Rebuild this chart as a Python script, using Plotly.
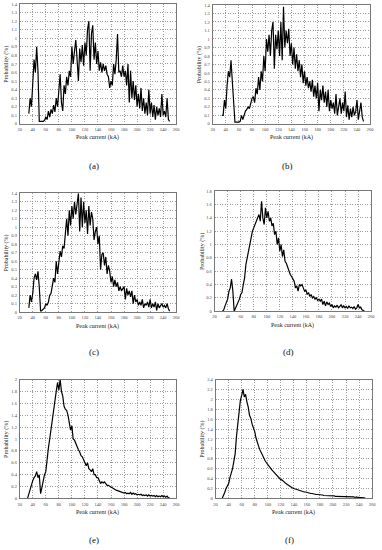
import plotly.graph_objects as go

KA = list(range(30, 252, 2))  # peak current sample points (kA)
X_TICKS = list(range(20, 261, 20))

N = None
prob_a = [N, N, 0.12, 0.30, 0.20, 0.55, 0.75, 0.60, 0.90, 0.62,
          0.03, 0.03, 0.03, 0.03, 0.04, 0.08, 0.05, 0.15, 0.08, 0.17,
          0.12, 0.22, 0.14, 0.30, 0.20, 0.35, 0.58, 0.25, 0.15, 0.45,
          0.35, 0.55, 0.45, 0.62, 0.55, 0.90, 0.70, 0.85, 0.98, 0.75,
          0.50, 0.88, 0.72, 0.92, 0.68, 0.95, 0.80, 1.10, 1.20, 0.62,
          1.05, 1.15, 0.75, 0.95, 0.70, 0.85, 0.62, 0.72, 0.60, 0.70,
          0.62, 0.68, 0.58, 0.55, 0.42, 0.50, 0.45, 0.70, 0.58, 0.75,
          1.05, 0.60, 0.62, 0.55, 0.68, 0.55, 0.62, 0.45, 0.70, 0.25,
          0.62, 0.30, 0.50, 0.28, 0.45, 0.20, 0.35, 0.18, 0.42, 0.15,
          0.30, 0.12, 0.25, 0.10, 0.40, 0.12, 0.25, 0.08, 0.22, 0.05,
          0.20, 0.10, 0.18, 0.08, 0.35, 0.10, 0.15, 0.08, 0.30, 0.05,
          0.03]
prob_b = [N, N, 0.10, 0.10, 0.28, 0.18, 0.45, 0.62, 0.55, 0.75,
          0.50, 0.30, 0.02, 0.02, 0.02, 0.02, 0.03, 0.10, 0.05, 0.12,
          0.15, 0.17, 0.20, 0.18, 0.25, 0.30, 0.32, 0.25, 0.42, 0.35,
          0.55, 0.40, 0.62, 0.50, 0.80, 0.62, 1.00, 0.85, 1.05, 0.80,
          1.10, 1.20, 0.65, 1.05, 0.88, 1.10, 0.80, 1.20, 0.75, 1.38,
          0.90, 1.10, 0.95, 1.12, 0.80, 0.95, 0.70, 0.90, 0.65, 0.82,
          0.62, 0.75, 0.55, 0.70, 0.48, 0.62, 0.45, 0.55, 0.42, 0.50,
          0.38, 0.52, 0.32, 0.45, 0.30, 0.48, 0.15, 0.40, 0.28, 0.45,
          0.25, 0.38, 0.20, 0.40, 0.15, 0.28, 0.18, 0.25, 0.12, 0.35,
          0.10, 0.22, 0.30, 0.12, 0.25, 0.15, 0.38, 0.08, 0.22, 0.05,
          0.18, 0.08, 0.20, 0.10, 0.15, 0.28, 0.05, 0.15, 0.25, 0.08,
          0.03]
prob_c = [N, N, 0.05, 0.20, 0.12, 0.22, 0.40, 0.45, 0.38, 0.48,
          0.30, 0.01, 0.02, 0.03, 0.05, 0.10, 0.08, 0.12, 0.20, 0.22,
          0.30, 0.40, 0.35, 0.60, 0.45, 0.62, 0.72, 0.65, 0.78, 0.75,
          0.92, 1.10, 0.90, 1.20, 1.02, 1.25, 1.10, 1.30, 1.15, 1.25,
          1.40, 0.95, 1.35, 1.00, 1.30, 1.05, 1.20, 0.92, 1.25, 1.02,
          1.18, 1.10, 0.85, 0.95, 1.00, 0.80, 0.90, 0.50, 0.68, 0.70,
          0.55, 0.65, 0.45, 0.55, 0.48, 0.35, 0.42, 0.30, 0.38, 0.30,
          0.35, 0.25, 0.30, 0.25, 0.28, 0.30, 0.15, 0.28, 0.20, 0.25,
          0.18, 0.25, 0.10, 0.20, 0.12, 0.15, 0.08, 0.12, 0.08, 0.15,
          0.05, 0.10, 0.08, 0.12, 0.06, 0.15, 0.05, 0.10, 0.06, 0.12,
          0.02, 0.10, 0.05, 0.08, 0.10, 0.06, 0.08, 0.05, 0.10, 0.04,
          0.01]
prob_d = [N, 0.00, 0.02, 0.08, 0.12, 0.18, 0.30, 0.35, 0.48, 0.30,
          0.00, 0.04, 0.08, 0.14, 0.18, 0.25, 0.28, 0.40, 0.50, 0.70,
          0.80, 0.95, 1.02, 1.15, 1.20, 1.25, 1.30, 1.32, 1.40, 1.45,
          1.35, 1.65, 1.40, 1.30, 1.55, 1.40, 1.50, 1.35, 1.40, 1.28,
          1.32, 1.15, 1.20, 1.00, 1.10, 0.90, 1.00, 0.82, 0.92, 0.75,
          0.72, 0.65, 0.60, 0.55, 0.52, 0.48, 0.45, 0.35, 0.38, 0.30,
          0.40, 0.38, 0.40, 0.35, 0.30, 0.32, 0.25, 0.28, 0.22, 0.25,
          0.20, 0.22, 0.18, 0.20, 0.16, 0.18, 0.15, 0.18, 0.10, 0.15,
          0.08, 0.14, 0.10, 0.12, 0.07, 0.10, 0.05, 0.08, 0.06, 0.09,
          0.05, 0.07, 0.10, 0.05, 0.08, 0.05, 0.07, 0.04, 0.08, 0.05,
          0.06, 0.04, 0.07, 0.03, 0.05, 0.10, 0.05, 0.06, 0.02, 0.01,
          0.00]
prob_e = [N, 0.00, 0.08, 0.15, 0.22, 0.30, 0.35, 0.38, 0.45, 0.35,
          0.40, 0.08, 0.18, 0.32, 0.40, 0.45, 0.68, 0.85, 1.00, 1.18,
          1.35, 1.52, 1.65, 1.80, 1.95, 1.82, 2.00, 1.80, 1.72, 1.55,
          1.50, 1.48, 1.40, 1.30, 1.15, 1.22, 1.00, 0.98, 0.92, 0.88,
          0.82, 0.78, 0.72, 0.70, 0.65, 0.62, 0.55, 0.60, 0.50, 0.48,
          0.45, 0.50, 0.40, 0.40, 0.35, 0.35, 0.30, 0.25, 0.28, 0.26,
          0.28, 0.24, 0.22, 0.22, 0.20, 0.19, 0.18, 0.16, 0.15, 0.14,
          0.13, 0.12, 0.11, 0.10, 0.10, 0.09, 0.10, 0.08, 0.09, 0.08,
          0.10, 0.07, 0.09, 0.07, 0.08, 0.06, 0.07, 0.06, 0.07, 0.05,
          0.06, 0.05, 0.06, 0.04, 0.06, 0.04, 0.05, 0.04, 0.05, 0.03,
          0.05, 0.03, 0.04, 0.03, 0.05, 0.03, 0.04, 0.02, 0.04, 0.01,
          0.01]
prob_f = [0.00, 0.05, 0.12, 0.20, 0.26, 0.30, 0.42, 0.50, 0.60, 0.75,
          0.90, 1.25, 1.55, 1.82, 1.98, 2.08, 2.20, 2.05, 2.10, 1.95,
          1.85, 1.68, 1.62, 1.50, 1.42, 1.35, 1.22, 1.12, 1.05, 0.98,
          0.92, 0.88, 0.82, 0.76, 0.72, 0.68, 0.65, 0.60, 0.58, 0.55,
          0.52, 0.50, 0.46, 0.44, 0.40, 0.38, 0.37, 0.34, 0.32, 0.30,
          0.28, 0.26, 0.25, 0.23, 0.21, 0.20, 0.19, 0.18, 0.17, 0.17,
          0.16, 0.15, 0.14, 0.13, 0.13, 0.12, 0.11, 0.11, 0.10, 0.10,
          0.09, 0.09, 0.08, 0.08, 0.08, 0.07, 0.07, 0.07, 0.06, 0.06,
          0.06, 0.06, 0.05, 0.05, 0.05, 0.05, 0.05, 0.04, 0.04, 0.04,
          0.04, 0.04, 0.04, 0.03, 0.04, 0.03, 0.03, 0.03, 0.03, 0.03,
          0.03, 0.03, 0.02, 0.03, 0.02, 0.02, 0.02, 0.02, 0.01, 0.01,
          0.00]

SERIES = [prob_a, prob_b, prob_c, prob_d, prob_e, prob_f]
LABELS = ["(a)", "(b)", "(c)", "(d)", "(e)", "(f)"]
Y_MAX = [1.4, 1.4, 1.4, 1.8, 2.0, 2.4]
Y_STEP = [0.1, 0.1, 0.1, 0.2, 0.2, 0.2]

W, H = 382, 550
# pixel boxes: (left, right, top, bottom)
BOXES = [(18, 177, 2, 123), (214, 374, 3, 123),
         (18, 177, 193, 313), (216, 375, 191, 312),
         (18, 177, 381, 501), (217, 376, 381, 501)]
LABEL_Y = [165, 165, 353, 353, 543, 543]

FONT = "Liberation Serif"
fig = go.Figure()
for i, (vals, box) in enumerate(zip(SERIES, BOXES)):
    n = i + 1
    xa = "x" if n == 1 else f"x{n}"
    ya = "y" if n == 1 else f"y{n}"
    fig.add_trace(go.Scatter(x=KA, y=vals, mode="lines", xaxis=xa, yaxis=ya,
                             line=dict(color="black", width=1.2),
                             connectgaps=False, showlegend=False))
    l, r, t, b = box
    ax_common = dict(showgrid=True, gridcolor="#9a9a9a", griddash="1px,1.5px", gridwidth=0.7,
                     showline=True, linecolor="#777", linewidth=0.8, mirror=True,
                     ticks="", zeroline=False,
                     tickfont=dict(family=FONT, size=4.5, color="#444"))
    fig.layout[f"xaxis{'' if n == 1 else n}"] = dict(
        ax_common, domain=[l / W, r / W], range=[20, 260], tickvals=X_TICKS,
        anchor=ya, ticklabelstandoff=1)
    nt = int(round(Y_MAX[i] / Y_STEP[i]))
    yt = [round(k * Y_STEP[i], 1) for k in range(nt + 1)]
    fig.layout[f"yaxis{'' if n == 1 else n}"] = dict(
        ax_common, domain=[1 - b / H, 1 - t / H], range=[0, Y_MAX[i]],
        tickvals=yt, ticktext=[f"{v:g}" for v in yt], anchor=xa,
        ticklabelstandoff=1)
    cx = (l + r) / 2
    fig.add_annotation(x=cx / W, y=1 - (b + 14) / H, xref="paper", yref="paper",
                       xanchor="center", yanchor="middle",
                       text="Peak current (kA)", showarrow=False,
                       font=dict(family=FONT, size=6, color="#222"))
    fig.add_annotation(x=(l - 13) / W, y=1 - ((t + b) / 2) / H, xref="paper", yref="paper",
                       xanchor="center", yanchor="middle",
                       text="Probability (%)", showarrow=False, textangle=-90,
                       font=dict(family=FONT, size=6, color="#222"))
    fig.add_annotation(x=(cx - 4) / W, y=1 - LABEL_Y[i] / H, xref="paper", yref="paper",
                       xanchor="center", yanchor="middle",
                       text=LABELS[i], showarrow=False,
                       font=dict(family=FONT, size=9, color="#111"))

fig.update_layout(width=W, height=H, margin=dict(l=0, r=0, t=0, b=0),
                  paper_bgcolor="white", plot_bgcolor="white")
fig.write_html("out.html", config={"displayModeBar": False},
               post_script="document.body.style.margin='0';document.body.style.overflow='hidden';")
